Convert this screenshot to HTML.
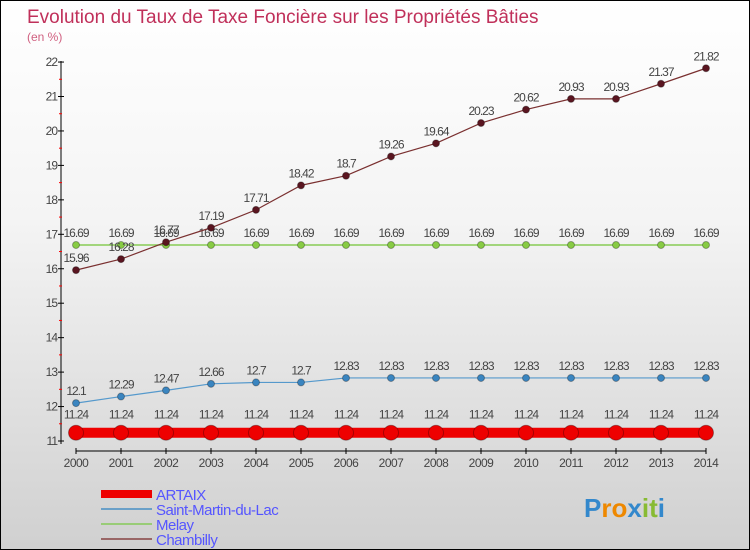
<!DOCTYPE html>
<html><head><meta charset="utf-8"><style>
body{margin:0}
#c{width:750px;height:550px;position:relative;overflow:hidden;box-sizing:border-box;border:1px solid #000;background:linear-gradient(#fff,#f4f4f4 40%,#d0d0d0);font-family:"Liberation Sans",sans-serif}
</style></head><body>
<div id="c">
<svg width="750" height="550" id="s" style="position:absolute;left:0;top:0"></svg>
</div>
<script>
const years=[2000,2001,2002,2003,2004,2005,2006,2007,2008,2009,2010,2011,2012,2013,2014];
const artaix=[11.24,11.24,11.24,11.24,11.24,11.24,11.24,11.24,11.24,11.24,11.24,11.24,11.24,11.24,11.24];
const stmartin=[12.1,12.29,12.47,12.66,12.7,12.7,12.83,12.83,12.83,12.83,12.83,12.83,12.83,12.83,12.83];
const melay=[16.69,16.69,16.69,16.69,16.69,16.69,16.69,16.69,16.69,16.69,16.69,16.69,16.69,16.69,16.69];
const chambilly=[15.96,16.28,16.77,17.19,17.71,18.42,18.7,19.26,19.64,20.23,20.62,20.93,20.93,21.37,21.82];
const yTicks=[11,12,13,14,15,16,17,18,19,20,21,22];
const seriesNames=["ARTAIX","Saint-Martin-du-Lac","Melay","Chambilly"];
const NS="http://www.w3.org/2000/svg",s=document.getElementById('s');
const X=i=>75+i*45, Y=v=>440-(v-11)*34.45;
function el(t,a,p){const e=document.createElementNS(NS,t);for(const k in a)e.setAttribute(k,a[k]);(p||s).appendChild(e);return e;}
function tx(x,y,str,a){const e=el('text',Object.assign({x:x,y:y},a));e.textContent=str;return e;}
let t=tx(26,22,"Evolution du Taux de Taxe Foncière sur les Propriétés Bâties",{fill:"#c0305a","font-size":19});

t=tx(26,40,"(en %)",{fill:"#d06080","font-size":12});

// axes
let a=el('line',{x1:60,y1:60,x2:60,y2:443,stroke:"#000"});
a=el('line',{x1:75,y1:450,x2:705,y2:450,stroke:"#000"});
yTicks.forEach(v=>{el('line',{x1:57,x2:63,y1:Y(v),y2:Y(v),stroke:"#000"});
 if(v<22)el('line',{x1:58,x2:61,y1:Y(v+0.5),y2:Y(v+0.5),stroke:"red"});
 const l=tx(56,Y(v)+4,String(v),{"text-anchor":"end","font-size":12,fill:"#444","letter-spacing":"-1"});
 });
years.forEach((y,i)=>{el('line',{x1:X(i),x2:X(i),y1:447,y2:453,stroke:"#000"});
 const l=tx(X(i),466,String(y),{"text-anchor":"middle","font-size":12,fill:"#444","letter-spacing":"-0.5"});
 });
function series(d,col,dot,w,r,name,lab){
 const p=el('polyline',{points:d.map((v,i)=>X(i)+","+Y(v)).join(" "),fill:"none",stroke:col,"stroke-width":w});
 
 d.forEach((v,i)=>{const c=el('circle',{cx:X(i),cy:Y(v),r:r,fill:dot,stroke:"rgba(0,0,0,0.3)"});
  
  const l=tx(X(i),Y(v)-lab,String(v),{"text-anchor":"middle","font-size":12,fill:"#444","letter-spacing":"-1"});
  });
}
series(melay,"#88cc55","#88cc44",1.5,3.5,"melay",8);
series(chambilly,"#7a3030","#5a1520",1.2,3.5,"chambilly",8);
series(stmartin,"#5599cc","#3a85c0",1.2,3.5,"saint-martin",8);
series(artaix,"#ee0000","#ee0000",10,7.5,"artaix",14);
const lc=["#ee0000","#6aa0c8","#99cc77","#996666"],lw=[8,2,2,2];
seriesNames.forEach((n,i)=>{const y=493+i*15;
 const l=el('line',{x1:100,x2:151,y1:y,y2:y,stroke:lc[i],"stroke-width":lw[i]});
 
 const tt=tx(155,y+6,n,{fill:"#5555ff","font-size":15,"letter-spacing":"-0.5"});
 });
const g=tx(583,516,"",{"font-size":26,"font-weight":"bold"});

[["P","#3388cc"],["r","#ee8800"],["o","#ee8800"],["x","#3388cc"],["i","#88bb33"],["t","#88bb33"],["i","#3388cc"]].forEach(([c,f])=>{const sp=el('tspan',{fill:f},g);sp.textContent=c;});
</script>
</body></html>
